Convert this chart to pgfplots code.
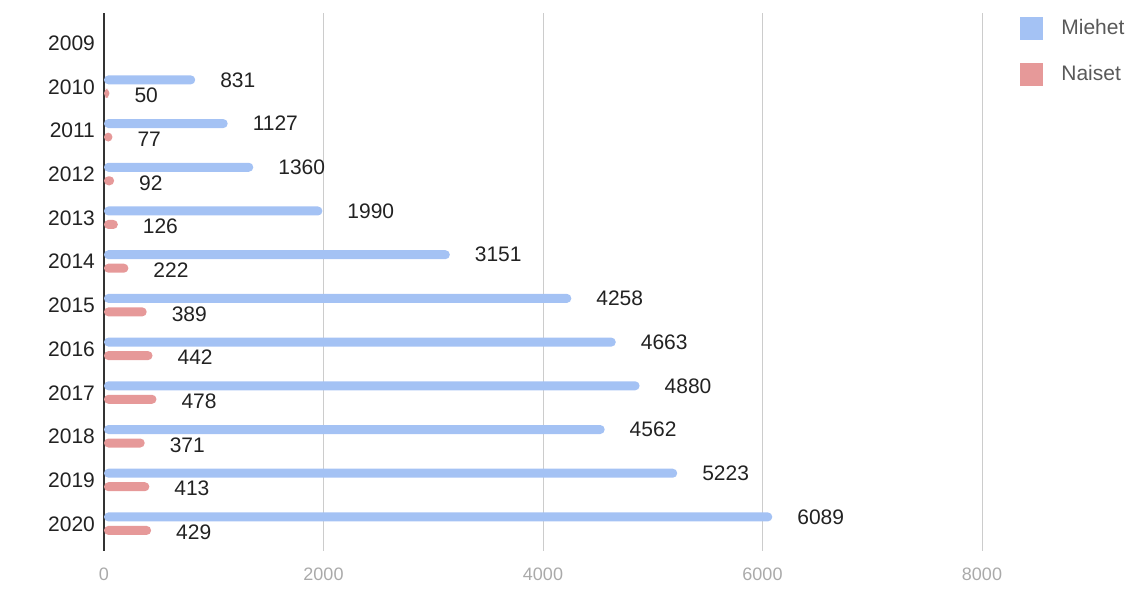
\documentclass[border=0pt]{standalone}
\usepackage{pgfplots}
\pgfplotsset{compat=1.18}
\usepackage{fontspec}
\setmainfont{Liberation Sans}
\definecolor{miehet}{HTML}{A4C2F4}
\definecolor{naiset}{HTML}{E69999}
\definecolor{gridgray}{HTML}{CCCCCC}
\definecolor{ticktext}{HTML}{AAAAAA}
\definecolor{labeltext}{HTML}{222222}

\begin{document}
\begin{tikzpicture}
\begin{axis}[
    name=ax,
    scale only axis,
    width=439pt, height=269pt,
    xbar, bar width=4.5pt,
    xmin=0, xmax=8000,
    ymin=-0.69, ymax=11.62,
    y dir=reverse,
    ytick={0,...,11},
    yticklabels={2009,2010,2011,2012,2013,2014,2015,2016,2017,2018,2019,2020},
    xtick={0,2000,4000,6000,8000},
    major tick length=0pt,
    axis y line*=left,
    axis x line*=bottom,
    x axis line style={draw=none},
    y axis line style={draw=black!80, line width=0.8pt, -},
    xmajorgrids,
    major grid style={draw=gridgray, line width=0.5pt},
    /pgf/number format/assume math mode=true,
    /pgf/number format/1000 sep={},
    xticklabel style={text=ticktext, font=\fontsize{9}{10}\selectfont, yshift=-5pt},
    yticklabel style={text=labeltext, font=\fontsize{10.5}{12}\selectfont, xshift=-1pt},
    nodes near coords,
    every node near coord/.append style={anchor=west, xshift=9pt,
        text=labeltext, font=\fontsize{10.5}{12}\selectfont},
    legend style={at={(1,1)}, anchor=north west, xshift=16pt, yshift=1pt, draw=none,
        font=\fontsize{10.5}{12}\selectfont, text=black!65,
        row sep=10pt, /tikz/every odd column/.append style={column sep=7pt}},
    legend cell align=left,
    legend image code/.code={\fill[#1,sharp corners] (0pt,-5.75pt) rectangle (11.5pt,5.75pt);},
    clip=false,
]
\addplot [draw=none, fill=miehet, rounded corners=2.2pt, bar shift=3.5pt] coordinates {
  (831,1) (1127,2) (1360,3) (1990,4) (3151,5) (4258,6)
  (4663,7) (4880,8) (4562,9) (5223,10) (6089,11)
};
\addplot [draw=none, fill=naiset, rounded corners=2.2pt, bar shift=-3.25pt,
  every node near coord/.append style={yshift=-1pt}] coordinates {
  (50,1) (77,2) (92,3) (126,4) (222,5) (389,6)
  (442,7) (478,8) (371,9) (413,10) (429,11)
};
\legend{Miehet,Naiset}
\end{axis}
\path ([xshift=-52pt,yshift=-21.5pt]ax.south west) rectangle ([xshift=77pt,yshift=6.5pt]ax.north east);
\end{tikzpicture}
\end{document}
